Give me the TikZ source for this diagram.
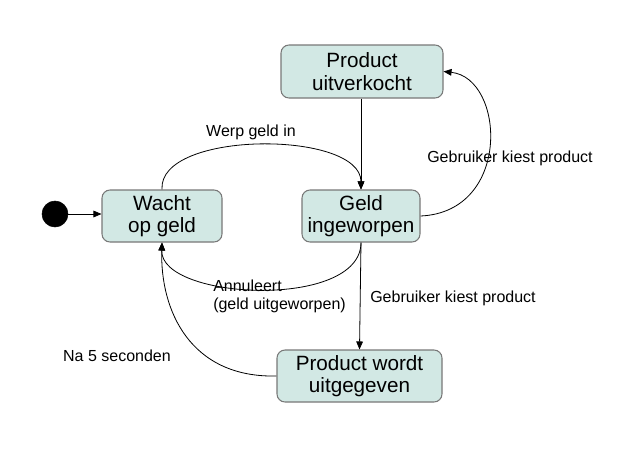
\documentclass[tikz,border=0pt]{standalone}
\usepackage{fontspec}
\setmainfont{Liberation Sans}
\usetikzlibrary{arrows.meta}
\definecolor{boxfill}{RGB}{210,232,228}
\definecolor{boxline}{RGB}{120,120,120}
\tikzset{
  state/.style={draw=boxline, fill=boxfill, rounded corners=6pt, line width=0.8pt,
    align=center, font=\fontsize{15.5}{17}\selectfont, inner sep=0pt},
  conn/.style={draw=black, line width=0.6pt, -{Triangle[length=6pt,width=5pt]}},
  lbl/.style={font=\fontsize{12}{13.5}\selectfont, inner sep=0pt}
}
\begin{document}
\begin{tikzpicture}[x=0.75pt,y=-0.75pt]
\useasboundingbox (0,0) rectangle (633,461);
\node[state, minimum width=162*0.75pt, minimum height=53*0.75pt] (pu) at (362,71.5) {Product\\uitverkocht};
\node[state, minimum width=120*0.75pt, minimum height=52*0.75pt] (wg) at (162,216) {Wacht\\op geld};
\node[state, minimum width=118*0.75pt, minimum height=52*0.75pt] (gi) at (361,216) {Geld\\ingeworpen};
\node[state, minimum width=165*0.75pt, minimum height=52*0.75pt] (pw) at (359.5,376) {Product wordt\\uitgegeven};
\node[circle, fill=black, draw=black, minimum size=26*0.75pt, inner sep=0pt] (init) at (55,214) {};

\draw[conn] (init.east) -- (wg.west |- init.east);
\draw[conn] (wg.north) .. controls (158,130) and (361,130) .. (gi.north);
\draw[conn] (pu.south -| gi.north) -- (gi.north);
\draw[conn] (gi.east) .. controls (512,212) and (505,78) .. (pu.east);
\draw[conn] (gi.south) .. controls (361,310) and (160,300) .. (wg.south);
\draw[conn] (gi.south) -- (pw.north);
\draw[conn] (pw.west) .. controls (190,378) and (160,310) .. (wg.south);

\node[lbl] (l1) at (251,132) {Werp geld in};
\node[lbl] (l2) at (510,158) {Gebruiker kiest product};
\node[lbl, align=left, anchor=north west] (l3) at (213,280) {Annuleert\\(geld uitgeworpen)};
\node[lbl] (l4) at (453,298) {Gebruiker kiest product};
\node[lbl] (l5) at (117,356) {Na 5 seconden};
\end{tikzpicture}
\end{document}
